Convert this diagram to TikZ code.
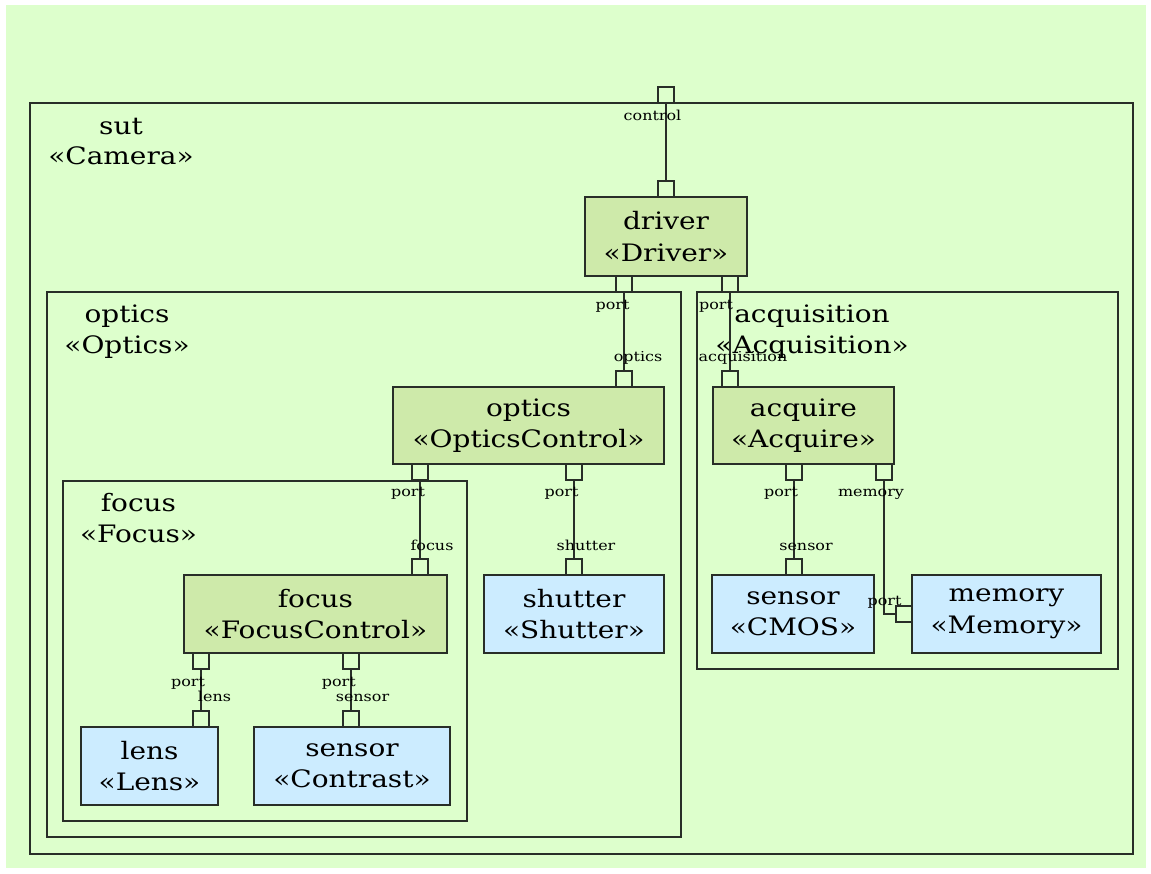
\documentclass[tikz,border=0pt]{standalone}
\usepackage{fontspec}
\setmainfont[FakeStretch=1.165]{DejaVu Serif}
\definecolor{bgc}{RGB}{221,255,204}
\definecolor{compg}{RGB}{206,234,170}
\definecolor{compb}{RGB}{204,236,255}
\definecolor{linec}{RGB}{40,46,40}
\begin{document}
\begin{tikzpicture}[x=1pt,y=-1pt,
  frame/.style={draw=linec, line width=2pt, inner sep=0pt},
  container/.style={frame, fill=none},
  greenbox/.style={frame, fill=compg, align=center, font=\fontsize{24}{31.5}\selectfont},
  bluebox/.style={frame, fill=compb, align=center, font=\fontsize{24}{31.5}\selectfont},
  portbox/.style={frame, fill=bgc, minimum width=16pt, minimum height=16pt},
  biglabel/.style={align=center, font=\fontsize{24}{30.5}\selectfont, inner sep=0pt, anchor=base},
  smalllabel/.style={font=\fontsize{13.7}{15}\selectfont, inner sep=0pt, anchor=base},
  conn/.style={draw=linec, line width=2pt}
]
\useasboundingbox (0,0) rectangle (1151,873);
\fill[white] (0,0) rectangle (1151,873);
\fill[bgc] (6,5) rectangle (1146,868);

% containers
\node[container, minimum width=1103pt, minimum height=751pt] (sut) at (581.5,478.5) {};
\node[container, minimum width=634pt, minimum height=545pt] (optics) at (364,564.5) {};
\node[container, minimum width=421pt, minimum height=377pt] (acquisition) at (907.5,480.5) {};
\node[container, minimum width=404pt, minimum height=340pt] (focus) at (265,651) {};

% container labels (base = last line's baseline)
\node[biglabel] (sutlbl) at (121,164.5) {sut\\«Camera»};
\node[biglabel] (opticslbl) at (127,353) {optics\\«Optics»};
\node[biglabel] (acqlbl) at (812,353) {acquisition\\«Acquisition»};
\node[biglabel] (focuslbl) at (138.5,542) {focus\\«Focus»};

% components
\node[greenbox, minimum width=162pt, minimum height=79pt] (driver) at (666,236.5) {driver\\«Driver»};
\node[greenbox, minimum width=271pt, minimum height=77pt] (opticsC) at (528.5,425.5) {optics\\«OpticsControl»};
\node[greenbox, minimum width=181pt, minimum height=77pt] (acquire) at (803.5,425.5) {acquire\\«Acquire»};
\node[greenbox, minimum width=263pt, minimum height=78pt] (focusC) at (315.5,614) {focus\\«FocusControl»};
\node[bluebox, minimum width=180pt, minimum height=78pt] (shutter) at (574,614) {shutter\\«Shutter»};
\node[bluebox, minimum width=162pt, minimum height=78pt] (cmos) at (793,614) {sensor\\«CMOS»};
\node[bluebox, minimum width=189pt, minimum height=78pt] (memory) at (1006.5,614) {memory\\«Memory»};
\node[bluebox, minimum width=137pt, minimum height=78pt] (lens) at (149.5,766) {lens\\«Lens»};
\node[bluebox, minimum width=196pt, minimum height=78pt] (contrast) at (352,766) {sensor\\«Contrast»};

% ports
\node[portbox] (ctrl) at (666,95) {};
\node[portbox] (drvT) at (666,189) {};
\node[portbox] (drvB1) at (624,284) {};
\node[portbox] (drvB2) at (730,284) {};
\node[portbox] (optT) at (624,379) {};
\node[portbox] (acqT) at (730,379) {};
\node[portbox] (optB1) at (420,472) {};
\node[portbox] (optB2) at (574,472) {};
\node[portbox] (acqB1) at (794,472) {};
\node[portbox] (acqB2) at (884,472) {};
\node[portbox] (focT) at (420,567) {};
\node[portbox] (shuT) at (574,567) {};
\node[portbox] (cmosT) at (794,567) {};
\node[portbox] (memL) at (904,614) {};
\node[portbox] (focB1) at (201,661) {};
\node[portbox] (focB2) at (351,661) {};
\node[portbox] (lensT) at (201,719) {};
\node[portbox] (conT) at (351,719) {};

% connectors
\draw[conn] (ctrl.south) -- (drvT.north);
\draw[conn] (drvB1.south) -- (optT.north);
\draw[conn] (drvB2.south) -- (acqT.north);
\draw[conn] (optB1.south) -- (focT.north);
\draw[conn] (optB2.south) -- (shuT.north);
\draw[conn] (acqB1.south) -- (cmosT.north);
\draw[conn] (acqB2.south) |- (memL.west);
\draw[conn] (focB1.south) -- (lensT.north);
\draw[conn] (focB2.south) -- (conT.north);

% port labels
\node[smalllabel] (l1) at (652.5,120) {control};
\node[smalllabel] (l2) at (612.5,309) {port};
\node[smalllabel] (l3) at (716,309) {port};
\node[smalllabel] (l4) at (638,361.7) {optics};
\node[smalllabel] (l5) at (743,361.7) {acquisition};
\node[smalllabel] (l6) at (408,496.7) {port};
\node[smalllabel] (l7) at (561.5,496.7) {port};
\node[smalllabel] (l8) at (432,550.7) {focus};
\node[smalllabel] (l9) at (586,550.7) {shutter};
\node[smalllabel] (l10) at (781,496.7) {port};
\node[smalllabel] (l11) at (871,496.7) {memory};
\node[smalllabel] (l12) at (806,550.7) {sensor};
\node[smalllabel] (l13) at (884.5,605) {port};
\node[smalllabel] (l14) at (188,686.7) {port};
\node[smalllabel] (l15) at (214.5,701.7) {lens};
\node[smalllabel] (l16) at (338.8,686.7) {port};
\node[smalllabel] (l17) at (362.5,701.7) {sensor};
\end{tikzpicture}
\end{document}
